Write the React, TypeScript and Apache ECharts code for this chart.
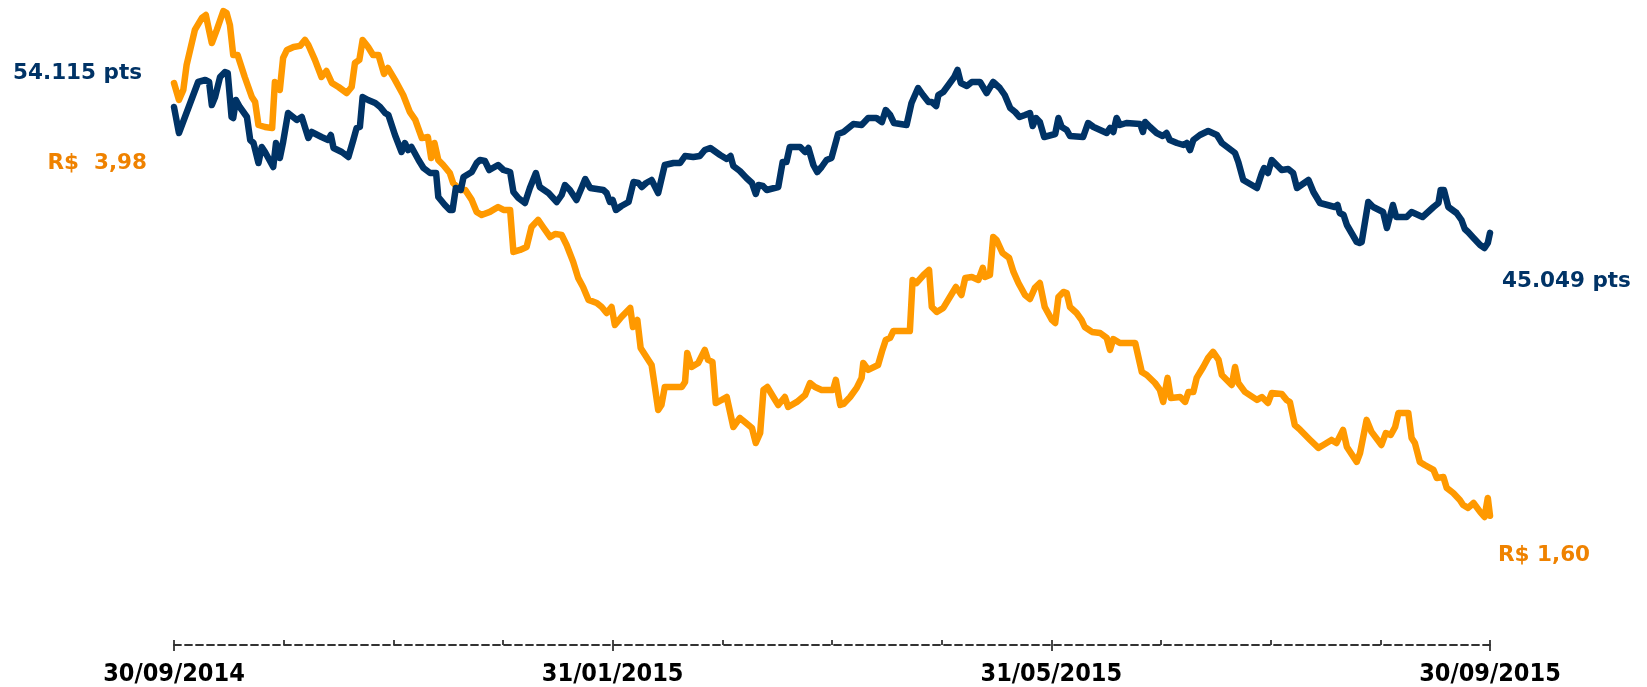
import React, { useEffect, useRef } from "react";
import * as echarts from "echarts";

// x axis: trading-day index (0 = 30/09/2014, 240 = 30/09/2015, 20 per month)
const TICK_LABELS = ["30/09/2014", "31/01/2015", "31/05/2015", "30/09/2015"];

// Index (pts)
const NAVY_DAY = [
  0, 0.9, 4.4, 5.7, 6.4, 6.9, 7.5, 8.4, 9.3, 9.8, 10.5, 10.8, 11.3, 12.0, 13.3, 13.9, 14.5, 15.4, 16.0, 16.6,
  18.1, 18.6, 19.3, 19.9, 20.8, 22.4, 23.3, 24.5, 25.1, 26.9, 28.1, 28.6, 29.1, 30.6, 31.8, 32.7, 33.3, 33.9, 34.4, 35.4,
  36.7, 37.6, 38.5, 39.1, 40.3, 41.5, 42.1, 42.7, 43.3, 44.6, 45.5, 46.7, 47.8, 48.2, 49.4, 50.3, 50.8, 51.4, 52.3, 52.8,
  54.3, 55.2, 55.8, 56.7, 57.5, 59.1, 60.1, 61.3, 61.9, 62.8, 64.0, 64.9, 66.0, 66.7, 68.3, 69.8, 70.7, 71.3, 72.2, 73.4,
  74.4, 75.0, 75.9, 78.3, 78.9, 79.5, 80.0, 80.6, 81.6, 82.9, 83.8, 84.7, 85.3, 86.1, 87.1, 88.3, 89.5, 91.1, 92.3, 93.2,
  94.7, 95.9, 96.8, 97.8, 99.6, 100.8, 101.5, 102.0, 103.2, 104.4, 105.4, 106.1, 106.6, 107.4, 108.1, 110.2, 111.0, 111.7, 112.3, 114.2,
  115.1, 115.7, 116.6, 117.3, 118.1, 119.0, 119.9, 121.1, 122.1, 123.9, 125.4, 126.6, 128.1, 129.1, 129.8, 130.6, 131.3, 133.6, 134.5, 135.7,
  136.6, 137.6, 138.2, 139.0, 139.4, 140.3, 141.5, 142.3, 142.9, 143.5, 144.6, 145.5, 147.0, 148.2, 149.4, 150.6, 151.5, 152.5, 153.4, 154.2,
  155.2, 156.1, 156.6, 157.2, 157.9, 158.7, 160.7, 161.3, 161.9, 162.8, 163.4, 165.8, 166.7, 167.7, 170.1, 170.7, 171.3, 171.9, 172.5, 173.7,
  176.2, 176.7, 177.1, 178.0, 179.2, 180.3, 181.0, 181.6, 182.9, 184.1, 184.7, 185.3, 185.9, 187.1, 188.6, 190.2, 191.1, 192.3, 193.5, 194.1,
  195.0, 197.5, 198.4, 198.8, 199.5, 200.2, 202.0, 203.2, 204.1, 204.8, 206.9, 207.8, 209.0, 211.7, 212.2, 212.6, 213.3, 213.9, 215.7, 216.2,
  216.6, 217.8, 218.7, 220.5, 221.2, 222.3, 222.9, 224.8, 225.7, 227.7, 229.7, 230.6, 231.0, 231.6, 232.4, 233.9, 234.8, 235.4, 236.0, 237.0,
  238.2, 239.0, 239.6, 240,
];
const NAVY_PTS = [
  54115, 52243, 55915, 56059, 55915, 54259, 54835, 56275, 56635, 56563, 53395, 53323, 54619, 54115, 53395, 51739, 51523, 50083, 51235, 50875,
  49795, 51523, 50443, 51595, 53683, 53179, 53395, 51883, 52315, 51955, 51739, 52099, 51163, 50875, 50515, 51739, 52603, 52675, 54835, 54619,
  54403, 54115, 53683, 53539, 52099, 50875, 51523, 51019, 51235, 50299, 49723, 49363, 49363, 47635, 47059, 46699, 46699, 48283, 48139, 49075,
  49435, 50083, 50299, 50227, 49579, 49939, 49579, 49435, 47995, 47563, 47203, 48283, 49363, 48355, 47923, 47275, 47779, 48499, 48139, 47419,
  48355, 48931, 48283, 48139, 47923, 47275, 47419, 46699, 46987, 47275, 48715, 48643, 48355, 48643, 48859, 47923, 49939, 50083, 50083, 50587,
  50515, 50587, 51019, 51163, 50659, 50371, 50587, 49867, 49507, 49003, 48643, 47851, 48499, 48427, 48139, 48355, 50155, 50155, 51235, 51235,
  50875, 51163, 49939, 49435, 49795, 50299, 50443, 52171, 52315, 52891, 52819, 53323, 53323, 53035, 53899, 53539, 52963, 52819, 54403, 55483,
  54979, 54475, 54475, 54187, 54979, 55195, 55843, 56275, 56779, 55843, 55627, 55915, 55915, 55123, 55915, 55483, 54979, 54043, 53755, 53395,
  53539, 53683, 52747, 53323, 53035, 51955, 52171, 53323, 52675, 52459, 52027, 51955, 52963, 52675, 52243, 52603, 52315, 53323, 52819, 52963,
  52891, 52315, 53035, 52675, 52243, 52027, 52243, 51739, 51523, 51379, 51523, 51019, 51739, 52099, 52387, 52099, 51523, 51163, 50803, 50155,
  48859, 48283, 49363, 49723, 49363, 50299, 49579, 49651, 49363, 48283, 48859, 47995, 47203, 46915, 47059, 46483, 46339, 45619, 44395, 44323,
  44395, 47275, 46915, 46555, 45403, 47059, 46195, 46195, 46555, 46195, 46915, 47203, 48139, 48139, 46915, 46483, 45979, 45331, 45115, 44683,
  44179, 43963, 44323, 45049,
];

// Price (R$)
const ORANGE_DAY = [
  0, 0.9, 1.7, 2.3, 3.8, 5.1, 5.8, 6.3, 6.9, 7.8, 9.0, 9.6, 10.2, 10.8, 11.6, 12.9, 14.2, 14.8, 15.4, 16.6,
  17.9, 18.4, 19.3, 19.9, 20.6, 21.8, 23.0, 23.9, 24.5, 25.7, 26.9, 27.8, 28.8, 30.0, 31.5, 32.4, 33.0, 33.8, 34.4, 35.4,
  36.3, 37.3, 38.3, 39.0, 40.3, 41.8, 43.0, 44.0, 45.2, 46.3, 46.9, 47.5, 48.2, 49.1, 50.3, 50.9, 52.2, 53.1, 54.3, 55.2,
  56.1, 57.6, 59.1, 60.1, 61.3, 61.9, 63.1, 64.3, 65.2, 66.4, 67.3, 68.6, 69.5, 70.7, 71.6, 72.8, 73.7, 74.6, 75.6, 77.1,
  78.0, 78.9, 79.8, 80.4, 81.6, 83.2, 83.7, 84.5, 85.1, 87.1, 87.7, 88.3, 88.9, 89.5, 92.6, 93.2, 93.6, 94.4, 95.6, 96.8,
  97.4, 98.2, 98.8, 99.9, 100.8, 102.0, 103.2, 104.1, 105.4, 106.1, 106.9, 107.5, 108.2, 109.3, 110.2, 111.4, 112.0, 113.6, 115.1, 116.0,
  116.9, 118.1, 120.2, 120.7, 121.5, 122.1, 123.3, 124.5, 125.4, 125.7, 126.6, 128.4, 129.2, 129.8, 130.6, 131.2, 134.2, 134.7, 135.4, 136.7,
  137.7, 138.2, 139.1, 140.3, 141.5, 142.6, 143.6, 144.3, 145.5, 146.7, 147.5, 147.9, 148.8, 149.4, 150.0, 151.1, 152.3, 153.1, 154.0, 155.2,
  156.1, 157.0, 157.9, 158.8, 160.1, 160.7, 161.3, 162.2, 162.8, 163.4, 164.6, 165.5, 166.1, 167.4, 168.9, 170.1, 170.7, 171.3, 172.5, 175.3,
  176.5, 177.4, 178.9, 179.8, 180.4, 181.2, 181.8, 183.5, 184.4, 185.0, 185.9, 186.5, 187.7, 188.6, 189.5, 190.5, 191.1, 192.9, 193.5, 194.1,
  195.3, 197.5, 198.4, 199.5, 200.2, 202.0, 202.9, 203.5, 204.4, 205.4, 207.2, 208.7, 209.6, 211.1, 212.0, 213.2, 213.9, 215.7, 216.3, 217.5,
  218.4, 220.2, 221.0, 221.9, 222.7, 223.3, 225.1, 225.7, 226.3, 227.2, 228.1, 229.7, 230.3, 231.5, 232.1, 233.3, 234.5, 235.1, 236.0, 237.0,
  238.2, 239.0, 239.6, 240,
];
const ORANGE_BRL = [
  3.98, 3.887, 3.942, 4.079, 4.272, 4.338, 4.354, 4.283, 4.2, 4.272, 4.376, 4.365, 4.299, 4.134, 4.134, 4.013, 3.903, 3.875, 3.749, 3.738,
  3.732, 3.985, 3.942, 4.118, 4.162, 4.178, 4.184, 4.217, 4.189, 4.107, 4.013, 4.046, 3.98, 3.958, 3.925, 3.958, 4.09, 4.107, 4.217, 4.178,
  4.134, 4.134, 4.03, 4.063, 3.997, 3.914, 3.821, 3.777, 3.677, 3.683, 3.567, 3.65, 3.557, 3.529, 3.485, 3.43, 3.392, 3.392, 3.337, 3.271,
  3.254, 3.271, 3.298, 3.282, 3.282, 3.051, 3.062, 3.078, 3.188, 3.227, 3.188, 3.133, 3.15, 3.144, 3.089, 2.996, 2.908, 2.858, 2.787, 2.77,
  2.748, 2.715, 2.748, 2.649, 2.693, 2.743, 2.638, 2.677, 2.523, 2.429, 2.308, 2.182, 2.209, 2.308, 2.308, 2.336, 2.495, 2.418, 2.44, 2.512,
  2.457, 2.446, 2.22, 2.237, 2.253, 2.088, 2.138, 2.116, 2.083, 2.0, 2.055, 2.292, 2.308, 2.253, 2.209, 2.253, 2.198, 2.226, 2.264, 2.33,
  2.308, 2.292, 2.292, 2.347, 2.209, 2.215, 2.253, 2.303, 2.358, 2.44, 2.402, 2.429, 2.512, 2.567, 2.578, 2.616, 2.616, 2.897, 2.88, 2.924,
  2.952, 2.748, 2.721, 2.743, 2.803, 2.858, 2.814, 2.908, 2.913, 2.897, 2.963, 2.913, 2.924, 3.133, 3.117, 3.045, 3.018, 2.941, 2.88, 2.814,
  2.792, 2.853, 2.88, 2.748, 2.677, 2.66, 2.803, 2.831, 2.825, 2.748, 2.715, 2.677, 2.638, 2.611, 2.605, 2.578, 2.512, 2.572, 2.55, 2.55,
  2.391, 2.374, 2.33, 2.292, 2.226, 2.358, 2.248, 2.253, 2.226, 2.281, 2.281, 2.358, 2.418, 2.468, 2.501, 2.457, 2.374, 2.319, 2.418, 2.33,
  2.281, 2.237, 2.253, 2.22, 2.275, 2.27, 2.237, 2.226, 2.099, 2.072, 2.017, 1.973, 1.989, 2.017, 2.0, 2.072, 1.978, 1.896, 1.945, 2.127,
  2.061, 1.989, 2.055, 2.044, 2.088, 2.165, 2.165, 2.028, 2.0, 1.896, 1.879, 1.852, 1.808, 1.813, 1.753, 1.725, 1.687, 1.659, 1.643, 1.67,
  1.621, 1.593, 1.698, 1.6,
];

const NAVY = "#003366";
const ORANGE = "#FF9900";
const ORANGE_TEXT = "#EF8200";
const AXIS = "#333333";

export default function App() {
  const ref = useRef<HTMLDivElement>(null);
  useEffect(() => {
    const chart = echarts.init(ref.current as HTMLDivElement, null, { renderer: "svg" });
    const navyData = NAVY_DAY.map((d, i) => [d, NAVY_PTS[i]]);
    const orangeData = ORANGE_DAY.map((d, i) => [d, ORANGE_BRL[i]]);
    const labelFont = { fontFamily: "DejaVu Sans", fontWeight: "bold", fontSize: 21.5 };
    chart.setOption({
      animation: false,
      grid: { left: 174, right: 157, top: 0, bottom: 42, outerBoundsMode: "none" },
      xAxis: [
        {
          type: "value", min: 0, max: 240, interval: 20, position: "bottom",
          axisLine: { show: true, onZero: false, lineStyle: { color: AXIS, width: 1.8, type: [7, 4] } },
          axisTick: { show: true, inside: true, length: 5, lineStyle: { color: AXIS, width: 1.8 } },
          axisLabel: { show: false },
          splitLine: { show: false },
        },
        {
          type: "value", min: 0, max: 240, interval: 80, position: "bottom",
          axisLine: { show: false, onZero: false },
          axisTick: { show: true, inside: false, length: 6, lineStyle: { color: AXIS, width: 1.8 } },
          axisLabel: {
            show: true, margin: 15, color: "#000",
            fontFamily: "DejaVu Sans Condensed", fontWeight: "bold", fontSize: 25,
            formatter: (v: number) => TICK_LABELS[Math.round(v / 80)] ?? "",
          },
          splitLine: { show: false },
        },
      ],
      yAxis: [
        { type: "value", min: 15379, max: 61819, show: false, splitLine: { show: false } },
        { type: "value", min: 0.889, max: 4.4365, show: false, splitLine: { show: false } },
      ],
      series: [
        {
          type: "line", name: "R$", xAxisIndex: 0, yAxisIndex: 1, data: orangeData,
          showSymbol: false, symbol: "none",
          lineStyle: { color: ORANGE, width: 6.5, cap: "round", join: "round" },
        },
        {
          type: "line", name: "pts", xAxisIndex: 0, yAxisIndex: 0, data: navyData,
          showSymbol: false, symbol: "none",
          lineStyle: { color: NAVY, width: 6.5, cap: "round", join: "round" },
        },
      ],
      graphic: [
        { type: "text", x: 142, y: 71, style: { text: "54.115 pts", fill: NAVY, ...labelFont, align: "right", verticalAlign: "middle", textAlign: "right", textVerticalAlign: "middle" } },
        { type: "text", x: 147, y: 161, style: { text: "R$  3,98", fill: ORANGE_TEXT, ...labelFont, align: "right", verticalAlign: "middle", textAlign: "right", textVerticalAlign: "middle" } },
        { type: "text", x: 1502, y: 279, style: { text: "45.049 pts", fill: NAVY, ...labelFont, align: "left", verticalAlign: "middle", textAlign: "left", textVerticalAlign: "middle" } },
        { type: "text", x: 1498, y: 553, style: { text: "R$ 1,60", fill: ORANGE_TEXT, ...labelFont, align: "left", verticalAlign: "middle", textAlign: "left", textVerticalAlign: "middle" } },
      ],
    });
    return () => chart.dispose();
  }, []);
  return <div ref={ref} style={{ position: "fixed", left: 0, top: 0, width: 1647, height: 687 }} />;
}
